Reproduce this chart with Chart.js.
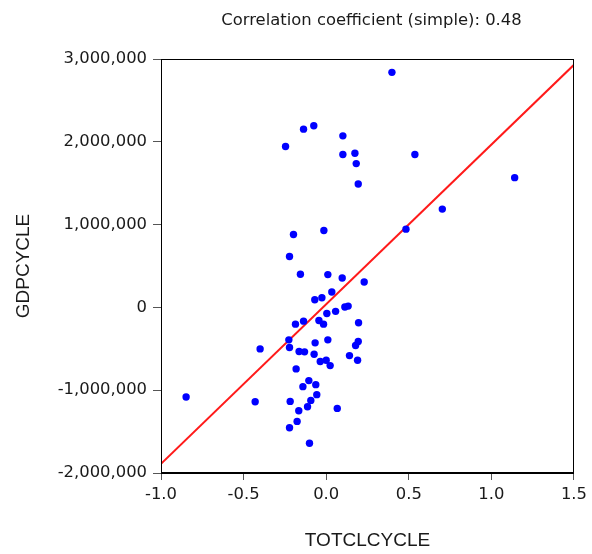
<!DOCTYPE html>
<html>
<head>
<meta charset="utf-8">
<script src="https://cdn.jsdelivr.net/npm/chart.js@4/dist/chart.umd.min.js"></script>
<style>
  html, body { margin: 0; padding: 0; background: #ffffff; }
  #c { display: block; }
</style>
</head>
<body>
<canvas id="c" width="592" height="554"></canvas>
<script>
// ---- Data ----
const titleText = "Correlation coefficient (simple): 0.48";
const xAxisLabel = "TOTCLCYCLE";
const yAxisLabel = "GDPCYCLE";

const xTickValues = [-1.0, -0.5, 0.0, 0.5, 1.0, 1.5];
const yTickValues = [-2000000, -1000000, 0, 1000000, 2000000, 3000000];

const totclcycle = [
  0.398, -0.137, -0.075, 0.101, -0.246, 0.101, 0.174, 0.182, 0.537, 0.194,
  1.141, 0.703, 0.483, -0.014, -0.198, -0.222, -0.156, 0.010, 0.097, 0.230,
  0.034, -0.026, -0.069, 0.113, 0.133, 0.057, 0.004, -0.137, -0.186, -0.044,
  -0.016, 0.196, -0.226, -0.222, 0.010, -0.067, 0.194, 0.178, -0.400, -0.164,
  -0.131, -0.073, -0.036, 0.000, 0.024, 0.141, 0.190, -0.182, -0.105, -0.141,
  -0.063, -0.057, -0.848, -0.430, -0.218, -0.093, -0.113, -0.166, 0.067, -0.176,
  -0.222, -0.101
];
const gdpcycle = [
  2839000, 2153000, 2193000, 2072000, 1943000, 1846000, 1862000, 1737000, 1846000, 1490000,
  1567000, 1187000, 945000, 929000, 880000, 614000, 400000, 396000, 355000, 307000,
  186000, 117000, 93000, 4000, 16000, -48000, -73000, -166000, -202000, -158000,
  -202000, -186000, -392000, -485000, -392000, -428000, -412000, -460000, -501000, -533000,
  -537000, -565000, -654000, -638000, -703000, -582000, -638000, -743000, -884000, -957000,
  -933000, -1054000, -1082000, -1139000, -1135000, -1123000, -1200000, -1248000, -1220000, -1377000,
  -1454000, -1640000
];

// Regression line end points
const fitX = [-1.0, 1.5];
const fitY = [-1890000, 2930000];

// ---- Build library structures ----
const scatterPoints = totclcycle.map((x, i) => ({ x: x, y: gdpcycle[i] }));
const fitPoints = fitX.map((x, i) => ({ x: x, y: fitY[i] }));

const TEXT = '#1a1a1a';
const tickFont = { family: 'DejaVu Sans', size: 16.4 };
const titleFont = { family: 'Liberation Sans', size: 19 };

const framePlugin = {
  id: 'frame',
  afterDraw(chart) {
    const { ctx, chartArea: a } = chart;
    ctx.save();
    ctx.strokeStyle = '#000000';
    ctx.lineWidth = 1;
    ctx.strokeRect(Math.round(a.left) + 0.5, Math.round(a.top) + 0.5,
                   Math.round(a.right - a.left) - 1, Math.round(a.bottom - a.top) - 1);
    ctx.restore();
  }
};

const topTitlePlugin = {
  id: 'topTitle',
  afterDraw(chart) {
    const { ctx, chartArea: a } = chart;
    ctx.save();
    ctx.fillStyle = TEXT;
    ctx.font = '16.4px "DejaVu Sans"';
    ctx.textAlign = 'center';
    ctx.textBaseline = 'middle';
    ctx.fillText(titleText, (a.left + a.right) / 2 + 4, a.top - 38.5);
    ctx.restore();
  }
};

new Chart(document.getElementById('c'), {
  type: 'scatter',
  data: {
    datasets: [
      {
        label: 'fit',
        type: 'line',
        data: fitPoints,
        borderColor: '#ff1a1a',
        borderWidth: 2,
        pointRadius: 0,
        fill: false,
        tension: 0,
        order: 2
      },
      {
        label: 'obs',
        data: scatterPoints,
        backgroundColor: '#0000ff',
        borderColor: '#0000ff',
        borderWidth: 0,
        pointRadius: 3.7,
        pointHoverRadius: 3.7,
        order: 1
      }
    ]
  },
  options: {
    responsive: false,
    animation: false,
    devicePixelRatio: 1,
    layout: { padding: { top: 59, right: 18, left: 0, bottom: 0 } },
    plugins: {
      legend: { display: false },
      tooltip: { enabled: false },
      title: { display: false }
    },
    scales: {
      x: {
        type: 'linear',
        min: -1.0,
        max: 1.5,
        afterFit(scale) { scale.height = 81; },
        afterBuildTicks(scale) { scale.ticks = xTickValues.map(v => ({ value: v })); },
        ticks: {
          color: TEXT,
          font: tickFont,
          padding: 5,
          maxRotation: 0,
          callback: v => Number(v).toFixed(1)
        },
        grid: {
          drawOnChartArea: false,
          drawTicks: true,
          tickLength: 7,
          color: '#555555'
        },
        border: { display: true, color: '#000000', width: 1 },
        title: {
          display: true,
          text: xAxisLabel,
          color: TEXT,
          font: titleFont,
          padding: { top: 0, bottom: 1.5 }
        }
      },
      y: {
        type: 'linear',
        min: -2000000,
        max: 3000000,
        afterFit(scale) { scale.width = 161; },
        afterBuildTicks(scale) { scale.ticks = yTickValues.map(v => ({ value: v })); },
        ticks: {
          color: TEXT,
          font: tickFont,
          padding: 6,
          callback: v => Number(v).toLocaleString('en-US')
        },
        grid: {
          drawOnChartArea: false,
          drawTicks: true,
          tickLength: 8,
          color: '#555555'
        },
        border: { display: true, color: '#000000', width: 1 },
        title: {
          display: true,
          text: yAxisLabel,
          color: TEXT,
          font: titleFont,
          padding: { top: 12.6, bottom: 0 }
        }
      }
    }
  },
  plugins: [framePlugin, topTitlePlugin]
});
</script>
</body>
</html>
